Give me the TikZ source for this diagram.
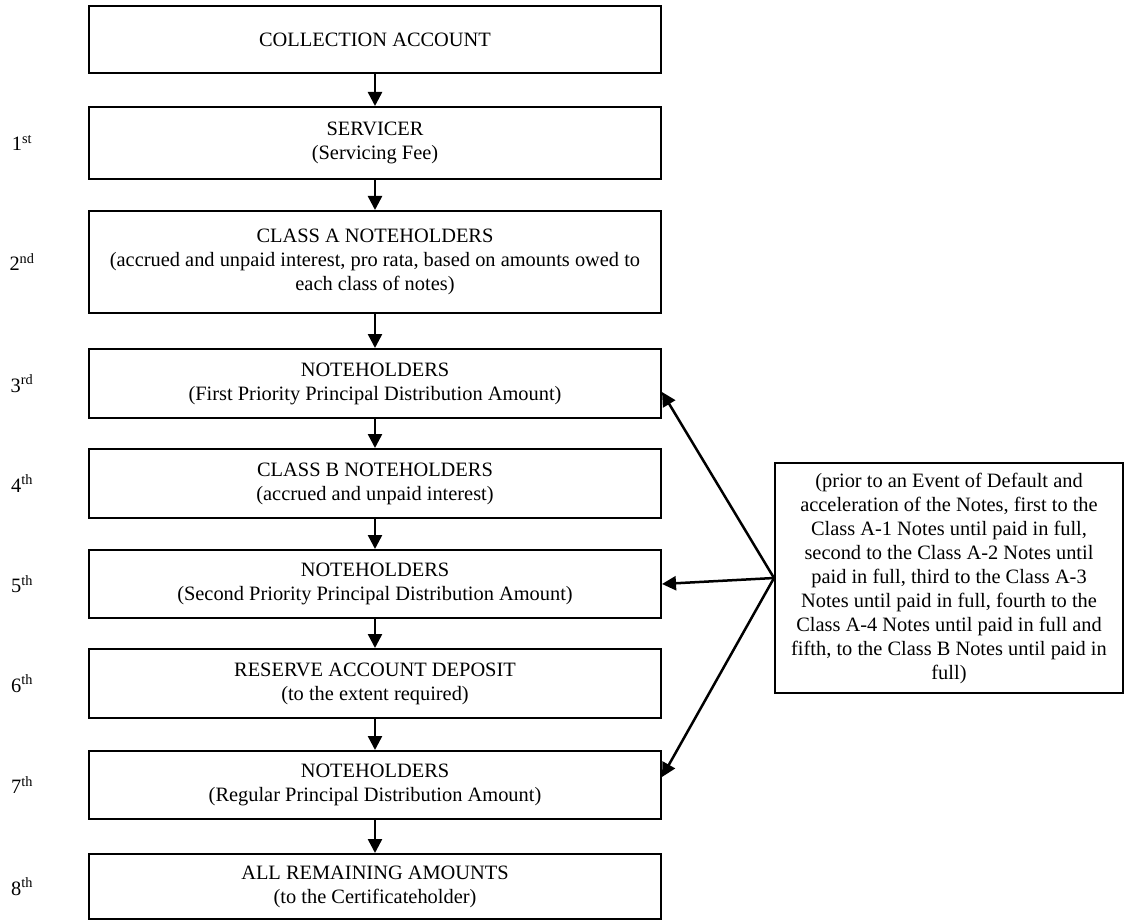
\documentclass[tikz,border=0pt]{standalone}
\usepackage{fontspec}
\setmainfont{Liberation Serif}
\usepackage{tikz}
\usetikzlibrary{arrows.meta, positioning}

\begin{document}
\begin{tikzpicture}[x=1pt, y=-1pt,
        box/.style={rectangle, draw=black, line width=2pt, minimum width=572pt, minimum height=68pt, align=center, inner sep=4pt, font=\fontsize{20.4}{24}\selectfont},
        note/.style={rectangle, draw=black, line width=2pt, minimum width=348pt, minimum height=230pt, align=center, inner sep=4pt, font=\fontsize{20.4}{24}\selectfont},
        ord/.style={inner sep=0pt, font=\fontsize{20.4}{24}\selectfont},
        arrow/.style={-{Triangle[length=14pt, width=14pt]}, line width=2.5pt}
    ]
        \useasboundingbox (0,0) rectangle (1127,920);
        \coordinate (ordcol) at (22,0);

        % Waterfall
        \node[box, minimum height=67pt] (acct) at (375, 39.5) {COLLECTION ACCOUNT};
        \node[box, minimum height=72pt] (servicer) at (375, 143) {SERVICER\\(Servicing Fee)};
        \node[box, minimum height=102pt] (classa) at (375, 262) {CLASS A NOTEHOLDERS\\(accrued and unpaid interest, pro rata, based on amounts owed to\\each class of notes)};
        \node[box, minimum height=69pt] (prio1) at (375, 383.5) {NOTEHOLDERS\\(First Priority Principal Distribution Amount)};
        \node[box, minimum height=69pt] (classb) at (375, 483.5) {CLASS B NOTEHOLDERS\\(accrued and unpaid interest)};
        \node[box] (prio2) at (375, 584) {NOTEHOLDERS\\(Second Priority Principal Distribution Amount)};
        \node[box, minimum height=69pt] (reserve) at (375, 683.5) {RESERVE ACCOUNT DEPOSIT\\(to the extent required)};
        \node[box] (regular) at (375, 785) {NOTEHOLDERS\\(Regular Principal Distribution Amount)};
        \node[box, minimum height=65pt] (remain) at (375, 886.5) {ALL REMAINING AMOUNTS\\(to the Certificateholder)};

        \draw[arrow] (acct) -- (servicer);
        \draw[arrow] (servicer) -- (classa);
        \draw[arrow] (classa) -- (prio1);
        \draw[arrow] (prio1) -- (classb);
        \draw[arrow] (classb) -- (prio2);
        \draw[arrow] (prio2) -- (reserve);
        \draw[arrow] (reserve) -- (regular);
        \draw[arrow] (regular) -- (remain);

        % Priority numbers
        \node[ord] (o1) at (servicer -| ordcol) {1\textsuperscript{st}};
        \node[ord] (o2) at (classa -| ordcol) {2\textsuperscript{nd}};
        \node[ord] (o3) at (prio1 -| ordcol) {3\textsuperscript{rd}};
        \node[ord] (o4) at (classb -| ordcol) {4\textsuperscript{th}};
        \node[ord] (o5) at (prio2 -| ordcol) {5\textsuperscript{th}};
        \node[ord] (o6) at (reserve -| ordcol) {6\textsuperscript{th}};
        \node[ord] (o7) at (regular -| ordcol) {7\textsuperscript{th}};
        \node[ord] (o8) at (remain -| ordcol) {8\textsuperscript{th}};

        % Principal order
        \node[note] (order) at (949, 578) {(prior to an Event of Default and\\acceleration of the Notes, first to the\\Class A-1 Notes until paid in full,\\second to the Class A-2 Notes until\\paid in full, third to the Class A-3\\Notes until paid in full, fourth to the\\Class A-4 Notes until paid in full and\\fifth, to the Class B Notes until paid in\\full)};
        \draw[arrow] (order.west) -- ([yshift=-8.5pt]prio1.east);
        \draw[arrow] (order.west) -- (prio2.east);
        \draw[arrow] (order.west) -- ([yshift=8pt]regular.east);
    \end{tikzpicture}
\end{document}
